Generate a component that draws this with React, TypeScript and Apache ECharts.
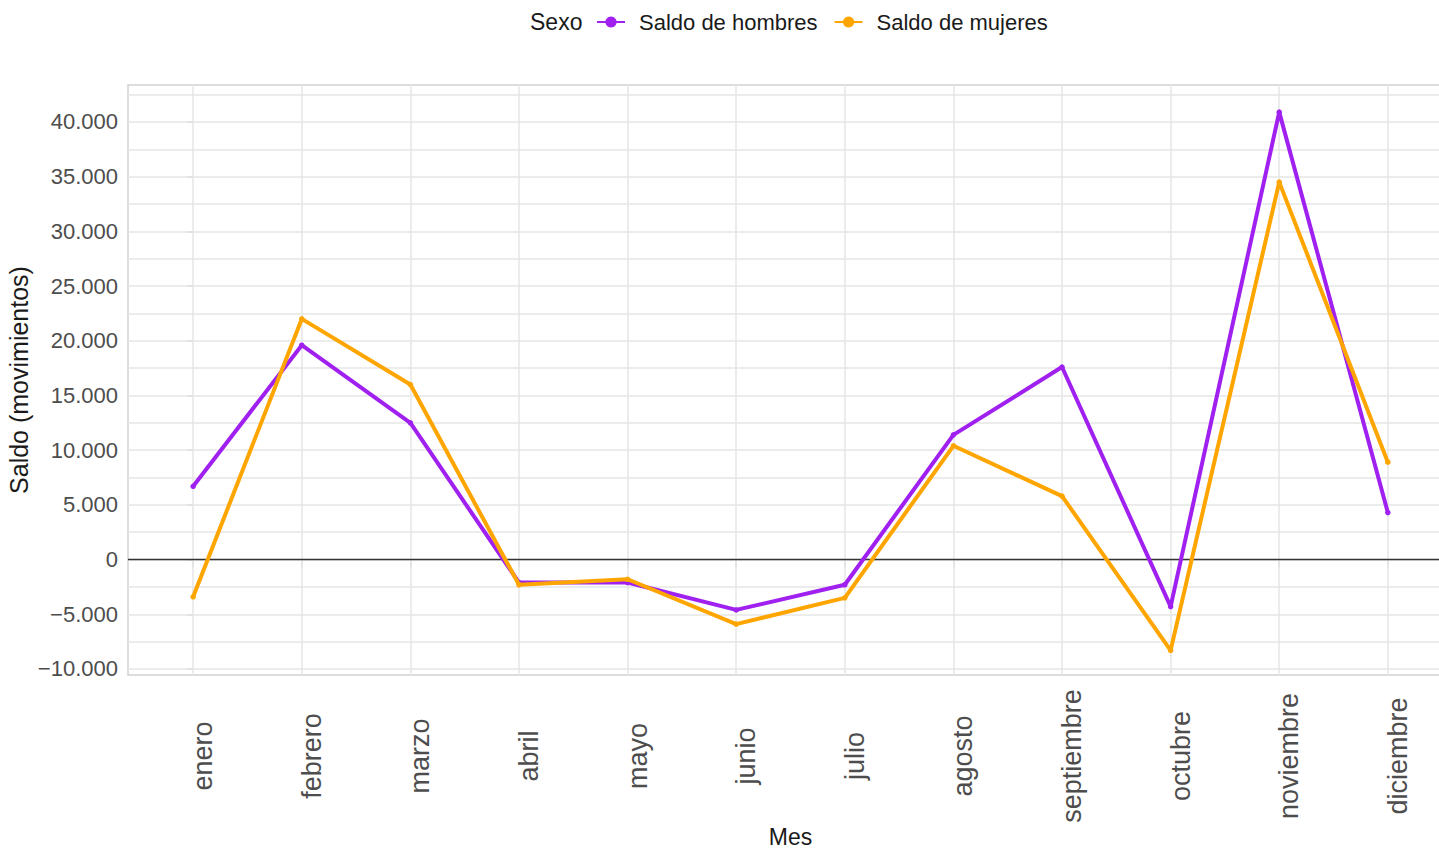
import React, { useEffect, useRef } from 'react';
import * as echarts from 'echarts';

const meses = ['enero', 'febrero', 'marzo', 'abril', 'mayo', 'junio', 'julio', 'agosto', 'septiembre', 'octubre', 'noviembre', 'diciembre'];
const saldoHombres = [6700, 19600, 12500, -2100, -2100, -4600, -2300, 11400, 17600, -4300, 40900, 4300];
const saldoMujeres = [-3400, 22000, 16000, -2300, -1800, -5900, -3500, 10400, 5800, -8300, 34500, 8900];
const yTicks = [-10000, -5000, 0, 5000, 10000, 15000, 20000, 25000, 30000, 35000, 40000];
const yGridValues = [-10000, -7500, -5000, -2500, 0, 2500, 5000, 7500, 10000, 12500, 15000, 17500, 20000, 22500, 25000, 27500, 30000, 32500, 35000, 37500, 40000, 42500];
const xTicks = meses.map((_, i) => i);

const FONT = "'Liberation Sans', Arial, sans-serif";

function fmt(v: number): string {
  const s = String(Math.abs(Math.round(v))).replace(/\B(?=(\d{3})+(?!\d))/g, '.');
  return v < 0 ? '\u2212' + s : s;
}

export default function App() {
  const ref = useRef<HTMLDivElement>(null);
  useEffect(() => {
    if (!ref.current) return;
    const chart = echarts.init(ref.current, null, { renderer: 'svg' });
    const gridLine = { color: '#e6e6e6', width: 1.5, type: 'solid' as const };
    chart.setOption({
      animation: false,
      backgroundColor: '#ffffff',
      graphic: [
        {
          type: 'text',
          x: 530,
          y: 22,
          style: { text: 'Sexo', fontSize: 23, fontFamily: FONT, fill: '#1a1a1a', align: 'left', verticalAlign: 'middle' },
        },
      ],
      legend: {
        data: ['Saldo de hombres', 'Saldo de mujeres'],
        left: 596,
        top: 11,
        padding: 0,
        itemWidth: 28,
        itemHeight: 14,
        itemGap: 16,
        textStyle: { fontSize: 22, fontFamily: FONT, color: '#1a1a1a', padding: [0, 0, 0, 9] },
      },
      grid: {
        left: 128,
        top: 85,
        width: 1325,
        height: 590,
        show: true,
        borderColor: '#d2d2d2',
        borderWidth: 1.5,
        backgroundColor: '#ffffff',
        containLabel: false,
        outerBoundsMode: 'none',
      },
      xAxis: {
        type: 'value',
        min: -0.6,
        max: 11.6,
        axisLine: { show: false },
        splitLine: { show: false },
        axisTick: { show: true, customValues: xTicks, length: 8, lineStyle: { color: '#d2d2d2', width: 1.5 } },
        axisLabel: {
          customValues: xTicks,
          formatter: (v: number) => meses[Math.round(v)] ?? '',
          rotate: 90,
          align: 'center',
          verticalAlign: 'top',
          lineHeight: 20,
          margin: 81,
          fontSize: 27,
          fontFamily: FONT,
          color: '#4d4d4d',
        },
        name: 'Mes',
        nameLocation: 'middle',
        nameGap: 150,
        nameMoveOverlap: false,
        nameTextStyle: { fontSize: 23, fontFamily: FONT, color: '#1a1a1a' },
      },
      yAxis: {
        type: 'value',
        min: -10550,
        max: 43380,
        axisLine: { show: false },
        splitLine: { show: false },
        axisTick: { show: true, customValues: yTicks, length: 6, lineStyle: { color: '#c8c8c8', width: 1.5 } },
        axisLabel: {
          customValues: yTicks,
          formatter: (v: number) => fmt(v),
          margin: 10,
          fontSize: 22,
          fontFamily: FONT,
          color: '#4d4d4d',
        },
        name: 'Saldo (movimientos)',
        nameLocation: 'middle',
        nameGap: 97,
        nameMoveOverlap: false,
        nameTextStyle: { fontSize: 25, fontFamily: FONT, color: '#1a1a1a' },
      },
      series: [
        {
          type: 'line',
          name: 'rejilla',
          data: [],
          silent: true,
          z: 1,
          markLine: {
            z: 1,
            silent: true,
            symbol: ['none', 'none'],
            label: { show: false },
            emphasis: { disabled: true },
            data: [
              ...yGridValues.map((v) => ({ yAxis: v, lineStyle: gridLine })),
              ...xTicks.map((v) => ({ xAxis: v, lineStyle: gridLine })),
              { yAxis: 0, lineStyle: { color: '#333333', width: 1.4, type: 'solid' } },
            ],
          },
        },
        {
          type: 'line',
          name: 'Saldo de hombres',
          data: saldoHombres.map((v, i) => [i, v]),
          symbol: 'circle',
          symbolSize: 5.5,
          z: 3,
          lineStyle: { width: 4, color: '#a020f0' },
          itemStyle: { color: '#a020f0', borderWidth: 0, borderColor: '#a020f0' },
        },
        {
          type: 'line',
          name: 'Saldo de mujeres',
          data: saldoMujeres.map((v, i) => [i, v]),
          symbol: 'circle',
          symbolSize: 5.5,
          z: 4,
          lineStyle: { width: 4, color: '#ffa500' },
          itemStyle: { color: '#ffa500', borderWidth: 0, borderColor: '#ffa500' },
        },
      ],
    });
    return () => chart.dispose();
  }, []);
  return <div ref={ref} style={{ position: 'fixed', left: 0, top: 0, width: 1439, height: 853 }} />;
}
